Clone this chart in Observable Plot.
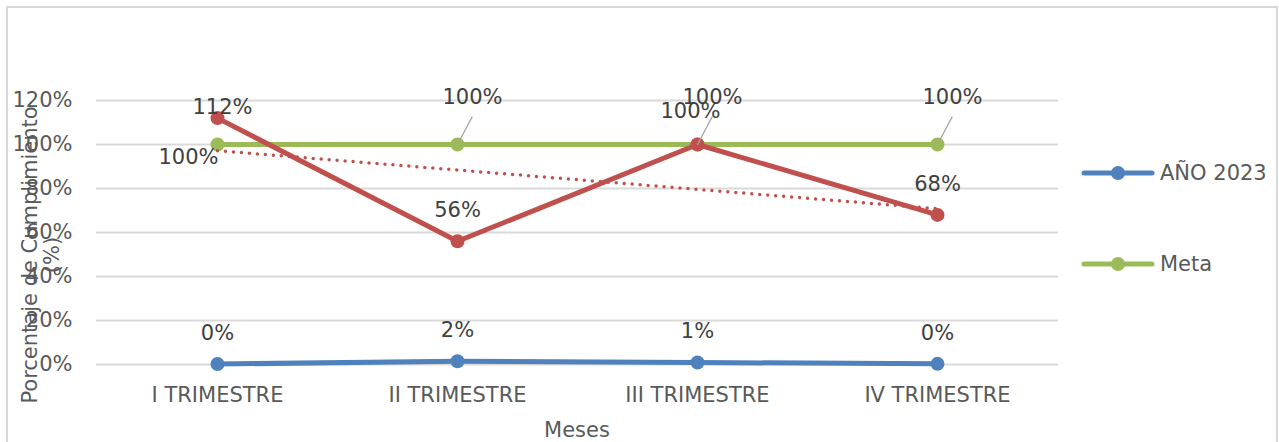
<!DOCTYPE html>
<html>
<head>
<meta charset="utf-8">
<script src="https://cdn.jsdelivr.net/npm/d3@7"></script>
<script src="https://cdn.jsdelivr.net/npm/@observablehq/plot@0.6"></script>
<style>
  html, body { margin: 0; padding: 0; background: #fff; }
  #wrap { position: relative; width: 1279px; height: 442px; overflow: hidden; font-family: "DejaVu Sans", Verdana, sans-serif; }
  #frame { position: absolute; left: 6px; top: 6px; width: 1272px; height: 460px; box-sizing: border-box; border: 2px solid #d9d9d9; }
  #chart { position: absolute; left: 0; top: 0; }
  .txt { position: absolute; color: #595959; font-size: 21px; white-space: nowrap; }
  #ytitle { left: -159px; top: 233px; width: 400px; height: 44px; line-height: 22px; text-align: center; transform: rotate(-90deg); transform-origin: 50% 50%; }
  #xtitle { left: 477px; top: 417px; width: 200px; text-align: center; line-height: 26px; }
  .leg { position: absolute; left: 1080px; width: 199px; height: 30px; }
  .leg svg { position: absolute; left: 0; top: 0; }
  .leg span { position: absolute; left: 80px; top: 2px; color: #595959; font-size: 21px; line-height: 26px; }
</style>
</head>
<body>
<div id="wrap">
  <div id="frame"></div>
  <div id="chart"></div>
  <div id="ytitle" class="txt">Porcentaje de Cumplimiento<br>(%)</div>
  <div id="xtitle" class="txt">Meses</div>
  <div class="leg" style="top:158px">
    <svg width="80" height="30"><line x1="4" y1="15" x2="72" y2="15" stroke="#4F81BD" stroke-width="5" stroke-linecap="round"/><circle cx="38" cy="15" r="7" fill="#4F81BD"/></svg>
    <span>AÑO 2023</span>
  </div>
  <div class="leg" style="top:249px">
    <svg width="80" height="30"><line x1="4" y1="15" x2="72" y2="15" stroke="#9BBB59" stroke-width="5" stroke-linecap="round"/><circle cx="38" cy="15" r="7" fill="#9BBB59"/></svg>
    <span>Meta</span>
  </div>
</div>
<script>
// ---- data ----
const quarters = ["I TRIMESTRE", "II TRIMESTRE", "III TRIMESTRE", "IV TRIMESTRE"];
const anio2023 = [0.002, 0.015, 0.009, 0.003];
const meta = [1.00, 1.00, 1.00, 1.00];
const cumplimiento = [1.12, 0.56, 1.00, 0.68];
const yTicks = [0, 0.2, 0.4, 0.6, 0.8, 1.0, 1.2];

// ---- derived tables ----
const blueData = quarters.map((q, i) => ({q, v: anio2023[i], i}));
const greenData = quarters.map((q, i) => ({q, v: meta[i], i}));
const redData = quarters.map((q, i) => ({q, v: cumplimiento[i], i}));

// least-squares linear trend of the red series
const n = cumplimiento.length;
const xs = d3.range(1, n + 1);
const mx = d3.mean(xs), my = d3.mean(cumplimiento);
const slope = d3.sum(xs, (x, k) => (x - mx) * (cumplimiento[k] - my)) / d3.sum(xs, x => (x - mx) ** 2);
const trendData = quarters.map((q, i) => ({q, v: my + slope * (xs[i] - mx)}));

const pct = d3.format(".0%");
const BLUE = "#4F81BD", GREEN = "#9BBB59", RED = "#C0504D", LBL = "#404040";
const leader = {draw(ctx, l) { ctx.moveTo(0, 0); ctx.lineTo(0, -l); }};

const chart = Plot.plot({
  width: 1279,
  height: 442,
  marginLeft: 96,
  marginRight: 221,
  marginTop: 100,
  marginBottom: 78,
  style: {fontFamily: "DejaVu Sans, Verdana, sans-serif", fontSize: "21px", color: "#595959", background: "transparent"},
  x: {type: "point", domain: quarters, padding: 0.5},
  y: {domain: [0, 1.2]},
  marks: [
    Plot.gridY(yTicks, {stroke: "#d9d9d9", strokeOpacity: 1, strokeWidth: 2}),
    Plot.axisY(yTicks, {tickFormat: pct, tickSize: 0, tickPadding: 24, fontSize: 21, label: null, fill: "#595959"}),
    Plot.axisX({tickSize: 0, tickPadding: 23, fontSize: 21, label: null, fill: "#595959"}),
    // blue series
    Plot.line(blueData, {x: "q", y: "v", stroke: BLUE, strokeWidth: 5}),
    Plot.dot(blueData, {x: "q", y: "v", r: 7, fill: BLUE}),
    // meta (green)
    Plot.line(greenData, {x: "q", y: "v", stroke: GREEN, strokeWidth: 5}),
    Plot.dot(greenData, {x: "q", y: "v", r: 7, fill: GREEN}),
    // trend (dotted)
    Plot.line(trendData, {x: "q", y: "v", stroke: RED, strokeWidth: 3.5, strokeDasharray: "0 8", strokeLinecap: "round"}),
    // red series
    Plot.line(redData, {x: "q", y: "v", stroke: RED, strokeWidth: 5}),
    Plot.dot(redData, {x: "q", y: "v", r: 7, fill: RED}),
    // leader lines for meta labels
    Plot.vector(greenData.filter(d => d.i > 0), {x: "q", y: "v", length: 31, rotate: 28, anchor: "start", shape: leader, stroke: "#a6a6a6", strokeWidth: 1.3}),
    // labels
    Plot.text(blueData, {x: "q", y: "v", text: d => pct(d.v), dy: -31, fontSize: 21, fill: LBL}),
    Plot.text(greenData.filter(d => d.i === 0), {x: "q", y: "v", text: d => pct(d.v), dx: -29, dy: 13, fontSize: 21, fill: LBL}),
    Plot.text(greenData.filter(d => d.i > 0), {x: "q", y: "v", text: d => pct(d.v), dx: 15, dy: -47, fontSize: 21, fill: LBL}),
    Plot.text(redData.filter(d => d.i === 0), {x: "q", y: "v", text: d => pct(d.v), dx: 5, dy: -11, fontSize: 21, fill: LBL}),
    Plot.text(redData.filter(d => d.i === 2), {x: "q", y: "v", text: d => pct(d.v), dx: -7, dy: -33, fontSize: 21, fill: LBL}),
    Plot.text(redData.filter(d => d.i === 1 || d.i === 3), {x: "q", y: "v", text: d => pct(d.v), dy: -31, fontSize: 21, fill: LBL})
  ]
});
document.getElementById("chart").appendChild(chart);
</script>
</body>
</html>
